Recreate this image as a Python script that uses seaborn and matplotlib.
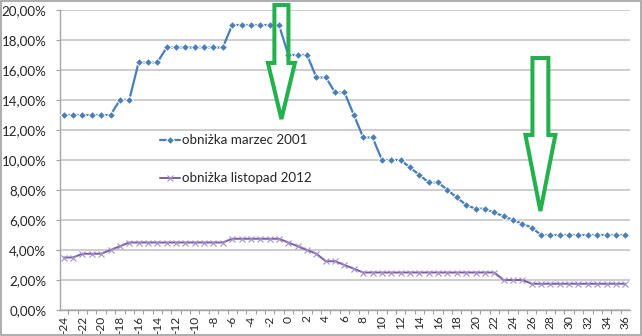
import numpy as np
import pandas as pd
import matplotlib
matplotlib.use("Agg")
import matplotlib.pyplot as plt
import seaborn as sns
from matplotlib.patches import Polygon, Rectangle
from matplotlib.ticker import FuncFormatter, FixedLocator

# ---------------- data ----------------
months = list(range(-24, 37))
rate_2001 = [13, 13, 13, 13, 13, 13,
             14, 14,
             16.5, 16.5, 16.5,
             17.5, 17.5, 17.5, 17.5, 17.5, 17.5, 17.5,
             19, 19, 19, 19, 19, 19,
             17, 17, 17,
             15.5, 15.5,
             14.5, 14.5,
             13,
             11.5, 11.5,
             10, 10, 10,
             9.5, 9, 8.5, 8.5, 8, 7.5, 7, 6.75, 6.75, 6.5, 6.25, 6, 5.75, 5.5,
             5, 5, 5, 5, 5, 5, 5, 5, 5, 5]
rate_2012 = [3.5, 3.5,
             3.75, 3.75, 3.75,
             4, 4.25,
             4.5, 4.5, 4.5, 4.5, 4.5, 4.5, 4.5, 4.5, 4.5, 4.5, 4.5,
             4.75, 4.75, 4.75, 4.75, 4.75, 4.75,
             4.5, 4.25, 4, 3.75,
             3.25, 3.25,
             3, 2.75,
             2.5, 2.5, 2.5, 2.5, 2.5, 2.5, 2.5, 2.5, 2.5, 2.5, 2.5, 2.5, 2.5, 2.5, 2.5,
             2, 2, 2,
             1.75, 1.75, 1.75, 1.75, 1.75, 1.75, 1.75, 1.75, 1.75, 1.75, 1.75]
series_names = ["obniżka marzec 2001", "obniżka listopad 2012"]
y_ticks = [0, 2, 4, 6, 8, 10, 12, 14, 16, 18, 20]
x_ticks = list(range(-24, 37, 2))

# decorative arrows (centre month, top, head base, tip, shaft half-width, head half-width)
arrow_x = [-0.74, 26.93]
arrow_top = [20.33, 16.8]
arrow_base = [16.47, 11.67]
arrow_tip = [12.73, 6.6]
arrow_shaft = [0.75, 0.85]
arrow_head = [1.44, 1.6]

# ---------------- style ----------------
sns.set_theme(style="white")
plt.rcParams['font.family'] = ['Lato', 'DejaVu Sans']

BLUE = "#4a7ebb"
PURPLE = "#7b5ea7"
PURPLE_MARK = "#a390cc"
GREEN = "#22b14c"
TEXT = "#262626"

fig = plt.figure(figsize=(6.42, 3.36), dpi=100)
ax = fig.add_axes([59.5 / 642, 26 / 336, 570 / 642, 300 / 336])

df1 = pd.DataFrame({"month": months, "rate": rate_2001})
df2 = pd.DataFrame({"month": months, "rate": rate_2012})

sns.lineplot(data=df1, x="month", y="rate", ax=ax, color=BLUE, marker="D",
             markersize=3.6, linewidth=1.6, label=series_names[0], zorder=3)
sns.lineplot(data=df2, x="month", y="rate", ax=ax, color=PURPLE, marker="x",
             markersize=4.5, markeredgewidth=0.8, linewidth=1.4,
             label=series_names[1], zorder=3)
ax.lines[1].set_markeredgecolor(PURPLE_MARK)

ax.set_xlim(-24.45, 36.45)
ax.set_ylim(0, 20)
ax.set_xlabel("")
ax.set_ylabel("")

ax.yaxis.set_major_locator(FixedLocator(y_ticks))
ax.yaxis.set_major_formatter(FuncFormatter(lambda v, p: f"{v:.2f}".replace('.', ',') + "%"))
ax.xaxis.set_major_locator(FixedLocator(x_ticks))
ax.set_xticklabels([str(v) for v in x_ticks], rotation=90)
ax.xaxis.set_minor_locator(FixedLocator([m + 0.5 for m in range(-25, 37)]))

ax.tick_params(axis="y", which="major", length=3, width=0.8, color="#a0a0a0",
               labelsize=9.6, labelcolor=TEXT, pad=6.5, left=True)
ax.tick_params(axis="x", which="major", length=0, labelsize=8.6,
               labelcolor=TEXT, pad=4)
ax.tick_params(axis="x", which="minor", length=3, width=0.8,
               color="#a0a0a0", bottom=True, direction="out")

ax.set_axisbelow(True)
ax.yaxis.grid(True, color="#cdcdcd", linewidth=1.4)
ax.xaxis.grid(False)
for s in ["top", "right"]:
    ax.spines[s].set_visible(False)
for s in ["left", "bottom"]:
    ax.spines[s].set_color("#a6a6a6")
    ax.spines[s].set_linewidth(1.0)

leg = ax.legend(loc="upper left", bbox_to_anchor=(0.176, 0.585), frameon=False,
                handlelength=1.5, handletextpad=0.15, labelspacing=1.95,
                borderpad=0, borderaxespad=0, fontsize=9.6)
for t in leg.get_texts():
    t.set_color(TEXT)

# arrows
for cx, top, base, tip, sh, hh in zip(arrow_x, arrow_top, arrow_base, arrow_tip,
                                      arrow_shaft, arrow_head):
    pts = [(cx - sh, top), (cx + sh, top), (cx + sh, base), (cx + hh, base),
           (cx, tip), (cx - hh, base), (cx - sh, base)]
    ax.add_patch(Polygon(pts, closed=True, facecolor="white", edgecolor="none",
                         zorder=1.5, clip_on=False))
    ax.add_patch(Polygon(pts, closed=True, fill=False, edgecolor=GREEN,
                         linewidth=2.9, joinstyle="miter", zorder=5, clip_on=False))

fig.patches.append(Rectangle((0.001, 0.002), 0.997, 0.996, transform=fig.transFigure,
                             fill=False, edgecolor="#a0a0a0", linewidth=1.2))

fig.savefig("out.png", dpi=100)
